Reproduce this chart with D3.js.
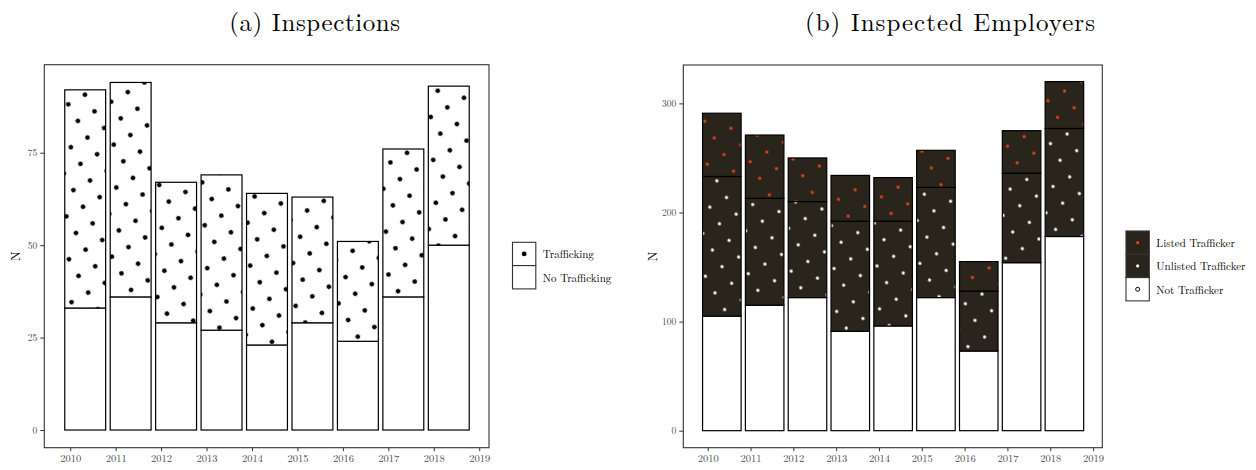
<!DOCTYPE html>
<html>
<head>
<meta charset="utf-8">
<script src="https://cdn.jsdelivr.net/npm/d3@7"></script>
<style>
  html, body { margin: 0; padding: 0; background: #fff; }
  svg { display: block; }
  text { font-family: "Latin Modern Roman", "CMU Serif", "Liberation Serif", serif; }
</style>
</head>
<body>
<svg id="chart" width="1256" height="470"></svg>
<script>
// ---- data -------------------------------------------------------------
const years = [2010, 2011, 2012, 2013, 2014, 2015, 2016, 2017, 2018];
const xTicks = [2010, 2011, 2012, 2013, 2014, 2015, 2016, 2017, 2018, 2019];

// (a) inspections, stacked counts
const inspNoTrafficking = [33, 36, 29, 27, 23, 29, 24, 36, 50];
const inspTrafficking   = [59, 58, 38, 42, 41, 34, 27, 40, 43];
const inspYTicks = [0, 25, 50, 75];

// (b) inspected employers, stacked counts
const empNotTrafficker      = [105, 115, 122, 91, 96, 122, 73, 154, 178];
const empUnlistedTrafficker = [128, 98, 88, 101, 96, 101, 55, 82, 99];
const empListedTrafficker   = [58, 58, 40, 42, 40, 34, 27, 39, 43];
const empYTicks = [0, 100, 200, 300];

// ---- setup ------------------------------------------------------------
const svg = d3.select("#chart");
const defs = svg.append("defs");
const GRID = 19.22;          // dot lattice spacing
const DARK = "#29241c";
const RED = "#e2411c";
const AXIS_GREY = "#333333";
const TEXT_GREY = "#4d4d4d";

// dotted fill: square lattice rotated by 30 degrees, anchored in user space
function dotPattern(id, bg, dot, r, ox, oy) {
  const p = defs.append("pattern")
    .attr("id", id)
    .attr("patternUnits", "userSpaceOnUse")
    .attr("width", GRID).attr("height", GRID)
    .attr("patternTransform", `translate(${ox},${oy}) rotate(-30)`);
  p.append("rect").attr("width", GRID).attr("height", GRID).attr("fill", bg);
  [[0, 0], [GRID, 0], [0, GRID], [GRID, GRID]].forEach(([cx, cy]) =>
    p.append("circle").attr("cx", cx).attr("cy", cy).attr("r", r).attr("fill", dot));
  return `url(#${id})`;
}

const fillTraffick = dotPattern("p-traffick", "#ffffff", "#000000", 2.4, 68.3, 104.3);
const fillListed   = dotPattern("p-listed", DARK, RED, 1.6, 704.7, 121.3);
const fillUnlisted = dotPattern("p-unlisted", DARK, "#ffffff", 1.6, 704.7, 121.3);

// ---- one panel --------------------------------------------------------
function panel(cfg) {
  const x = d3.scaleLinear().domain(cfg.xDomain).range(cfg.xRange);
  const y = d3.scaleLinear().domain(cfg.yDomain).range(cfg.yRange);
  const g = svg.append("g");

  // stacked bars
  const stackData = years.map((yr, i) => {
    const o = { year: yr };
    cfg.series.forEach(s => { o[s.key] = s.values[i]; });
    return o;
  });
  const stacked = d3.stack().keys(cfg.series.map(s => s.key))(stackData);
  stacked.forEach((layer, li) => {
    const s = cfg.series[li];
    g.append("g").selectAll("rect")
      .data(layer)
      .join("rect")
      .attr("x", d => x(d.data.year - 0.12))
      .attr("width", d => x(d.data.year + 0.78) - x(d.data.year - 0.12))
      .attr("y", d => y(d[1]))
      .attr("height", d => y(d[0]) - y(d[1]))
      .attr("fill", s.fill)
      .attr("stroke", "#000")
      .attr("stroke-width", 1.2);
  });

  // panel border
  const [x0, x1] = cfg.xDomain, [y0, y1] = cfg.yDomain;
  g.append("rect")
    .attr("x", x(x0)).attr("y", y(y1))
    .attr("width", x(x1) - x(x0)).attr("height", y(y0) - y(y1))
    .attr("fill", "none").attr("stroke", AXIS_GREY).attr("stroke-width", 1.1);

  // axes
  const xAxis = g.append("g")
    .attr("transform", `translate(0,${y(y0)})`)
    .call(d3.axisBottom(x).tickValues(xTicks).tickFormat(d3.format("d")).tickSizeOuter(0).tickSize(3.5).tickPadding(3));
  xAxis.select(".domain").remove();
  xAxis.selectAll("line").attr("stroke", AXIS_GREY).attr("stroke-width", 1);
  xAxis.selectAll("text").attr("fill", TEXT_GREY).attr("font-size", 10.5)
    .style("font-family", '"Latin Modern Roman", "CMU Serif", "Liberation Serif", serif');

  const yAxis = g.append("g")
    .attr("transform", `translate(${x(x0)},0)`)
    .call(d3.axisLeft(y).tickValues(cfg.yTicks).tickSizeOuter(0).tickSize(4).tickPadding(3));
  yAxis.select(".domain").remove();
  yAxis.selectAll("line").attr("stroke", AXIS_GREY).attr("stroke-width", 1);
  yAxis.selectAll("text").attr("fill", TEXT_GREY).attr("font-size", 9.5)
    .style("font-family", '"Latin Modern Roman", "CMU Serif", "Liberation Serif", serif');

  // axis title
  g.append("text")
    .attr("transform", `translate(${cfg.nX},${(y(y0) + y(y1)) / 2}) rotate(-90)`)
    .attr("text-anchor", "middle").attr("dominant-baseline", "central")
    .attr("font-size", 13).attr("fill", "#000").text("N");

  // panel title
  g.append("text")
    .attr("x", cfg.titleX).attr("y", 30.5)
    .attr("text-anchor", "middle")
    .attr("font-size", 25)
    .attr("textLength", cfg.titleLen).attr("lengthAdjust", "spacing")
    .attr("fill", "#000").text(cfg.title);

  // legend
  const lg = g.append("g").attr("transform", `translate(${cfg.legX},${cfg.legY})`);
  const KEY = 23.3;
  cfg.legend.forEach((item, i) => {
    const row = lg.append("g").attr("transform", `translate(0,${i * KEY})`);
    row.append("rect").attr("width", KEY).attr("height", KEY)
      .attr("fill", item.bg).attr("stroke", "#333").attr("stroke-width", 1.1);
    row.append("circle").attr("cx", KEY / 2).attr("cy", KEY / 2).attr("r", item.r)
      .attr("fill", item.dot).attr("stroke", item.ring || "none").attr("stroke-width", 1);
    row.append("text").attr("x", KEY + 7).attr("y", KEY / 2)
      .attr("dominant-baseline", "central").attr("font-size", 11).attr("fill", "#000")
      .text(item.label);
  });
}

panel({
  title: "(a) Inspections", titleX: 314.7, titleLen: 171,
  xDomain: [2009.43, 2019.215], xRange: [44.3, 489],
  yDomain: [-4.78, 98.8], yRange: [447.7, 64.7],
  yTicks: inspYTicks, nX: 14.5,
  series: [
    { key: "none", values: inspNoTrafficking, fill: "#ffffff" },
    { key: "traffick", values: inspTrafficking, fill: fillTraffick }
  ],
  legX: 512.5, legY: 242.3,
  legend: [
    { label: "Trafficking", bg: "#fff", dot: "#000", r: 2.4 },
    { label: "No Trafficking", bg: "#fff", dot: "none", r: 0 }
  ]
});

panel({
  title: "(b) Inspected Employers", titleX: 950, titleLen: 290,
  xDomain: [2009.43, 2019.215], xRange: [683.3, 1102.3],
  yDomain: [-15.6, 335.2], yRange: [447.7, 65],
  yTicks: empYTicks, nX: 651.7,
  series: [
    { key: "not", values: empNotTrafficker, fill: "#ffffff" },
    { key: "unlisted", values: empUnlistedTrafficker, fill: fillUnlisted },
    { key: "listed", values: empListedTrafficker, fill: fillListed }
  ],
  legX: 1126, legY: 231,
  legend: [
    { label: "Listed Trafficker", bg: DARK, dot: RED, r: 1.6 },
    { label: "Unlisted Trafficker", bg: DARK, dot: "#fff", r: 1.6 },
    { label: "Not Trafficker", bg: "#fff", dot: "#fff", r: 2, ring: "#000" }
  ]
});
</script>
</body>
</html>
